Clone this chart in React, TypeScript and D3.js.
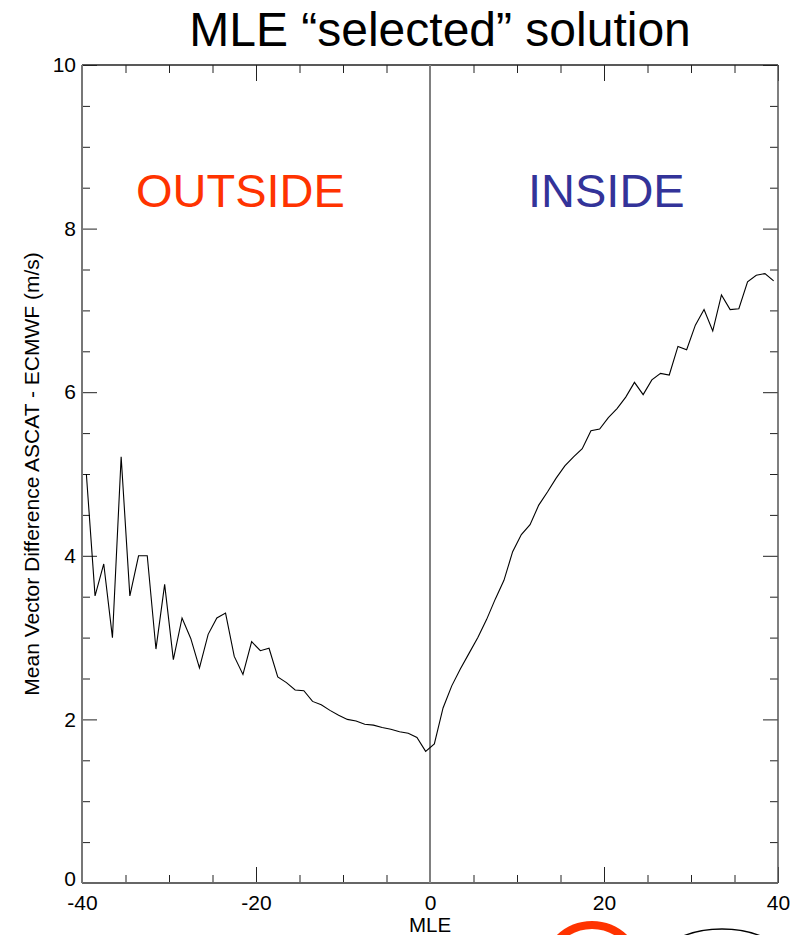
import { useEffect, useRef } from 'react';
import * as d3 from 'd3';

// MLE bin centres
const mleBins = [
  -39.5, -38.5, -37.5, -36.5, -35.5, -34.5, -33.5, -32.5, -31.5, -30.5,
  -29.5, -28.5, -27.5, -26.5, -25.5, -24.5, -23.5, -22.5, -21.5, -20.5,
  -19.5, -18.5, -17.5, -16.5, -15.5, -14.5, -13.5, -12.5, -11.5, -10.5,
  -9.5, -8.5, -7.5, -6.5, -5.5, -4.5, -3.5, -2.5, -1.5, -0.5,
  0.5, 1.5, 2.5, 3.5, 4.5, 5.5, 6.5, 7.5, 8.5, 9.5,
  10.5, 11.5, 12.5, 13.5, 14.5, 15.5, 16.5, 17.5, 18.5, 19.5,
  20.5, 21.5, 22.5, 23.5, 24.5, 25.5, 26.5, 27.5, 28.5, 29.5,
  30.5, 31.5, 32.5, 33.5, 34.5, 35.5, 36.5, 37.5, 38.5, 39.5,
];

// mean vector difference ASCAT - ECMWF (m/s)
const meanDiff = [
  5.0, 3.51, 3.9, 3.0, 5.21, 3.51, 4.0, 4.0, 2.86, 3.65,
  2.73, 3.24, 2.99, 2.63, 3.04, 3.24, 3.3, 2.77, 2.55, 2.95,
  2.84, 2.87, 2.52, 2.45, 2.36, 2.35, 2.22, 2.18, 2.11, 2.05,
  2.0, 1.98, 1.94, 1.93, 1.9, 1.88, 1.85, 1.83, 1.78, 1.61,
  1.7, 2.14, 2.41, 2.62, 2.81, 3.0, 3.22, 3.47, 3.7, 4.05,
  4.26, 4.38, 4.62, 4.78, 4.95, 5.1, 5.21, 5.31, 5.53, 5.55,
  5.69, 5.8, 5.94, 6.12, 5.97, 6.15, 6.23, 6.21, 6.56, 6.52,
  6.82, 7.01, 6.75, 7.19, 7.01, 7.02, 7.35, 7.43, 7.45, 7.36,
];

const xMajorTicks = [-40, -20, 0, 20, 40];
const xMinorTicks = [-35, -30, -25, -15, -10, -5, 5, 10, 15, 25, 30, 35];
const yMajorTicks = [0, 2, 4, 6, 8, 10];
const yMinorTicks = [0.5, 1, 1.5, 2.5, 3, 3.5, 4.5, 5, 5.5, 6.5, 7, 7.5, 8.5, 9, 9.5];

const WIDTH = 800;
const HEIGHT = 935;
const PLOT = { left: 82, right: 778, top: 65, bottom: 883 };
const FONT = 'Liberation Sans, Arial, Helvetica, sans-serif';

export default function App() {
  const svgRef = useRef<SVGSVGElement>(null);

  useEffect(() => {
    document.body.style.margin = '0';
    if (!svgRef.current) return;
    const svg = d3.select(svgRef.current);
    svg.selectAll('*').remove();

    const x = d3.scaleLinear().domain([-40, 40]).range([PLOT.left, PLOT.right]);
    const y = d3.scaleLinear().domain([0, 10]).range([PLOT.bottom, PLOT.top]);
    const plain = (d: d3.NumberValue) => String(d);
    const blank = () => '';

    // Title
    svg
      .append('text')
      .attr('x', 440)
      .attr('y', 46)
      .attr('text-anchor', 'middle')
      .attr('font-size', 48)
      .attr('fill', '#000')
      .text('MLE \u201Cselected\u201D solution');

    // Axes (ticks pointing inward)
    const styleAxis = (g: d3.Selection<SVGGElement, unknown, null, undefined>) => {
      g.select('.domain').remove();
      g.selectAll('.tick line').attr('stroke', '#222').attr('stroke-width', 1);
      g.selectAll('.tick text')
        .attr('font-family', FONT)
        .attr('font-size', 21)
        .attr('fill', '#000');
    };

    svg
      .append('g')
      .attr('transform', `translate(0,${PLOT.bottom})`)
      .call(d3.axisBottom(x).tickValues(xMajorTicks).tickSizeInner(-16).tickSizeOuter(0).tickPadding(12).tickFormat(plain))
      .call(styleAxis);
    svg
      .append('g')
      .attr('transform', `translate(0,${PLOT.bottom})`)
      .call(d3.axisBottom(x).tickValues(xMinorTicks).tickSizeInner(-8).tickSizeOuter(0).tickFormat(blank))
      .call(styleAxis);
    svg
      .append('g')
      .attr('transform', `translate(0,${PLOT.top})`)
      .call(d3.axisTop(x).tickValues(xMajorTicks).tickSizeInner(-16).tickSizeOuter(0).tickFormat(blank))
      .call(styleAxis);
    svg
      .append('g')
      .attr('transform', `translate(0,${PLOT.top})`)
      .call(d3.axisTop(x).tickValues(xMinorTicks).tickSizeInner(-8).tickSizeOuter(0).tickFormat(blank))
      .call(styleAxis);

    svg
      .append('g')
      .attr('transform', `translate(${PLOT.left},0)`)
      .call(d3.axisLeft(y).tickValues(yMajorTicks).tickSizeInner(-15).tickSizeOuter(0).tickPadding(6).tickFormat(plain))
      .call(styleAxis)
      .selectAll('.tick text')
      .attr('dy', (d) => ((d as number) === 0 ? '0.1em' : '0.32em'));
    svg
      .append('g')
      .attr('transform', `translate(${PLOT.left},0)`)
      .call(d3.axisLeft(y).tickValues(yMinorTicks).tickSizeInner(-8).tickSizeOuter(0).tickFormat(blank))
      .call(styleAxis);
    svg
      .append('g')
      .attr('transform', `translate(${PLOT.right},0)`)
      .call(d3.axisRight(y).tickValues(yMajorTicks).tickSizeInner(-15).tickSizeOuter(0).tickFormat(blank))
      .call(styleAxis);
    svg
      .append('g')
      .attr('transform', `translate(${PLOT.right},0)`)
      .call(d3.axisRight(y).tickValues(yMinorTicks).tickSizeInner(-8).tickSizeOuter(0).tickFormat(blank))
      .call(styleAxis);

    // Frame
    const frame = svg.append('g').attr('fill', 'none');
    frame.append('line').attr('x1', PLOT.left).attr('x2', PLOT.right).attr('y1', PLOT.top).attr('y2', PLOT.top)
      .attr('stroke', '#222').attr('stroke-width', 1.5);
    frame.append('line').attr('x1', PLOT.right).attr('x2', PLOT.right).attr('y1', PLOT.top).attr('y2', PLOT.bottom)
      .attr('stroke', '#555').attr('stroke-width', 1.5);
    frame.append('line').attr('x1', PLOT.left).attr('x2', PLOT.right).attr('y1', PLOT.bottom).attr('y2', PLOT.bottom)
      .attr('stroke', '#666').attr('stroke-width', 2);
    frame.append('line').attr('x1', PLOT.left).attr('x2', PLOT.left).attr('y1', PLOT.top).attr('y2', PLOT.bottom)
      .attr('stroke', '#777').attr('stroke-width', 2);

    // Zero line
    svg
      .append('line')
      .attr('x1', x(0))
      .attr('x2', x(0))
      .attr('y1', y(10))
      .attr('y2', y(0))
      .attr('stroke', '#808080')
      .attr('stroke-width', 2);

    // Data line
    const line = d3
      .line<number>()
      .x((_, i) => x(mleBins[i]))
      .y((d) => y(d));
    svg
      .append('path')
      .datum(meanDiff)
      .attr('d', line)
      .attr('fill', 'none')
      .attr('stroke', '#000')
      .attr('stroke-width', 1.1);

    // Region labels
    svg
      .append('text')
      .attr('x', 136)
      .attr('y', 207)
      .attr('font-size', 47)
      .attr('fill', '#FF3300')
      .text('OUTSIDE');
    svg
      .append('text')
      .attr('x', 528)
      .attr('y', 207)
      .attr('font-size', 47)
      .attr('fill', '#333399')
      .text('INSIDE');

    // Axis titles
    svg
      .append('text')
      .attr('x', x(0))
      .attr('y', 932)
      .attr('text-anchor', 'middle')
      .attr('font-size', 20.5)
      .attr('fill', '#000')
      .text('MLE');
    svg
      .append('text')
      .attr('transform', `translate(39,474) rotate(-90)`)
      .attr('text-anchor', 'middle')
      .attr('font-size', 21)
      .attr('fill', '#000')
      .text('Mean Vector Difference ASCAT - ECMWF (m/s)');

    // Annotation shapes cut off at the bottom edge
    svg
      .append('circle')
      .attr('cx', 592)
      .attr('cy', 972)
      .attr('r', 47)
      .attr('fill', 'none')
      .attr('stroke', '#FF3300')
      .attr('stroke-width', 8);
    svg
      .append('ellipse')
      .attr('cx', 722)
      .attr('cy', 959)
      .attr('rx', 60)
      .attr('ry', 30)
      .attr('fill', 'none')
      .attr('stroke', '#000')
      .attr('stroke-width', 1.5);
  }, []);

  return (
    <svg
      ref={svgRef}
      width={WIDTH}
      height={HEIGHT}
      style={{ display: 'block', background: '#fff', fontFamily: FONT }}
    />
  );
}
